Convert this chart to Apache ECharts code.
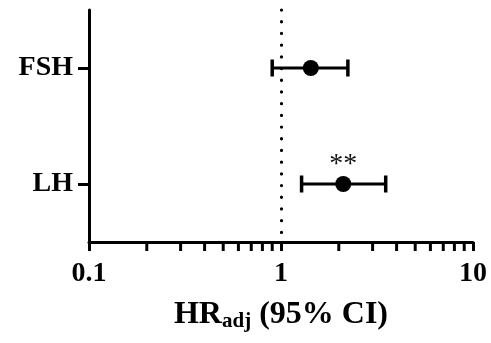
<!DOCTYPE html>
<html>
<head>
<meta charset="utf-8">
<script src="https://cdn.jsdelivr.net/npm/echarts@6/dist/echarts.min.js"></script>
<style>
  html, body { margin: 0; padding: 0; background: #fff; }
  #chart { width: 491px; height: 343px; }
</style>
</head>
<body>
<div id="chart"></div>
<script>
// hormones, top to bottom
const categories = ['FSH', 'LH']
const hrValues   = [1.43, 2.11]
const ciLow      = [0.90, 1.28]
const ciHigh     = [2.23, 3.51]
const sigMarks   = ['', '**']

// log axis: major labels + minor ticks
const minorTicks = [0.2, 0.3, 0.4, 0.5, 0.6, 0.7, 0.8, 0.9, 2, 3, 4, 5, 6, 7, 8, 9]
const refLine    = 1

const FONT  = '"Liberation Serif", "DejaVu Serif", serif'
const BLACK = '#000'

const chart = echarts.init(document.getElementById('chart'))

chart.setOption({
  animation: false,
  grid: { left: 89, right: 18, top: 10, bottom: 101, containLabel: false },
  xAxis: {
    type: 'log',
    logBase: 10,
    min: 0.1,
    max: 10,
    splitLine: { show: false },
    axisLine:  { show: true, onZero: false, lineStyle: { color: BLACK, width: 3 } },
    axisTick:  { show: true, length: 9, lineStyle: { color: BLACK, width: 3 } },
    axisLabel: {
      color: BLACK, fontFamily: FONT, fontWeight: 'bold', fontSize: 28, margin: 18,
      formatter: v => String(v),
    },
    name: '{a|HR}{b|adj}{a| (95% CI)}',
    nameLocation: 'middle',
    nameGap: 55,
    nameTextStyle: {
      rich: {
        a: { fontFamily: FONT, fontWeight: 'bold', fontSize: 32, color: BLACK, lineHeight: 36 },
        b: { fontFamily: FONT, fontWeight: 'bold', fontSize: 21, color: BLACK, lineHeight: 20,
             padding: [14, 0, 0, 0] },
      },
    },
  },
  yAxis: {
    type: 'category',
    data: categories,
    inverse: true,
    splitLine: { show: false },
    axisLine:  { show: true, onZero: false, lineStyle: { color: BLACK, width: 3 } },
    axisTick:  { show: true, alignWithLabel: true, length: 11, lineStyle: { color: BLACK, width: 3 } },
    axisLabel: { color: BLACK, fontFamily: FONT, fontWeight: 'bold', fontSize: 28, margin: 16 },
  },
  series: [
    // minor ticks on the log axis
    {
      type: 'custom',
      silent: true,
      data: minorTicks.map(v => [v]),
      encode: { x: 0 },
      renderItem(params, api) {
        const x = api.coord([api.value(0), 0])[0]
        const yb = params.coordSys.y + params.coordSys.height
        return {
          type: 'line',
          shape: { x1: x, y1: yb, x2: x, y2: yb + 9 },
          style: { stroke: BLACK, lineWidth: 3 },
        }
      },
    },
    // confidence intervals
    {
      type: 'custom',
      silent: true,
      data: categories.map((c, i) => [ciLow[i], ciHigh[i], i]),
      encode: { x: [0, 1], y: 2 },
      renderItem(params, api) {
        const lo = api.coord([api.value(0), api.value(2)])
        const hi = api.coord([api.value(1), api.value(2)])
        const h = 8.5
        const st = { stroke: BLACK, lineWidth: 3 }
        return {
          type: 'group',
          children: [
            { type: 'line', shape: { x1: lo[0], y1: lo[1], x2: hi[0], y2: hi[1] }, style: st },
            { type: 'line', shape: { x1: lo[0], y1: lo[1] - h, x2: lo[0], y2: lo[1] + h }, style: { ...st, lineWidth: 3.5 } },
            { type: 'line', shape: { x1: hi[0], y1: hi[1] - h, x2: hi[0], y2: hi[1] + h }, style: { ...st, lineWidth: 3.5 } },
          ],
        }
      },
    },
    // point estimates
    {
      type: 'scatter',
      data: categories.map((c, i) => [hrValues[i], i]),
      symbol: 'circle',
      symbolSize: 16,
      itemStyle: { color: BLACK, opacity: 1 },
      label: {
        show: true,
        position: 'top',
        distance: -3,
        formatter: p => sigMarks[p.dataIndex],
        fontFamily: FONT, fontSize: 28, color: '#111',
      },
      markLine: {
        silent: true,
        symbol: 'none',
        label: { show: false },
        lineStyle: { color: BLACK, width: 3.2, type: [0.1, 11.6], cap: 'round', opacity: 1 },
        data: [{ xAxis: refLine }],
      },
    },
  ],
})
</script>
</body>
</html>
